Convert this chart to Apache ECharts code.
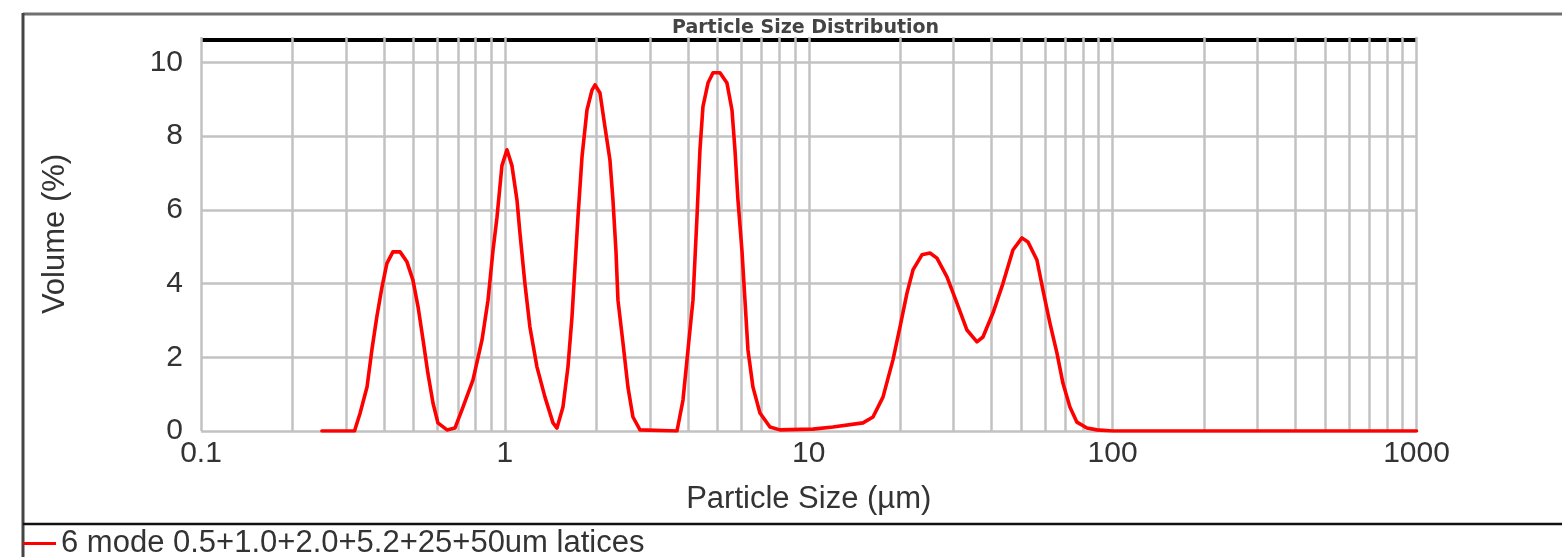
<!DOCTYPE html>
<html>
<head>
<meta charset="utf-8">
<script src="https://cdn.jsdelivr.net/npm/echarts@6/dist/echarts.min.js"></script>
<style>
html,body{margin:0;padding:0;background:#fff;}
#chart{width:1562px;height:557px;}
</style>
</head>
<body>
<div id="chart"></div>
<script>
// Particle size (µm)
const sizes = [0.25, 0.32, 0.334, 0.352, 0.365, 0.379, 0.394, 0.409, 0.428, 0.452, 0.476, 0.498, 0.518, 0.538, 0.558, 0.580, 0.602, 0.645, 0.685, 0.728, 0.785, 0.841, 0.880, 0.914, 0.942, 0.978, 1.016, 1.055, 1.096, 1.121, 1.164, 1.209, 1.275, 1.355, 1.44, 1.484, 1.553, 1.613, 1.663, 1.701, 1.740, 1.794, 1.863, 1.935, 1.980, 2.056, 2.135, 2.217, 2.268, 2.32, 2.356, 2.447, 2.541, 2.639, 2.784, 3.685, 3.856, 4.005, 4.159, 4.287, 4.385, 4.486, 4.660, 4.840, 5.103, 5.381, 5.589, 5.717, 5.848, 6.028, 6.167, 6.309, 6.553, 6.909, 7.453, 8.04, 10.32, 12.01, 15.08, 16.27, 17.55, 18.93, 19.96, 21.05, 22.03, 23.58, 25.05, 26.42, 28.50, 30.74, 33.16, 35.77, 37.43, 40.38, 43.55, 46.98, 50.30, 52.64, 56.35, 58.97, 62.18, 65.56, 68.61, 72.35, 76.29, 82.31, 88.79, 100, 1000];
// Volume (%)
const volumes = [0, 0, 0.49, 1.2, 2.2, 3.1, 3.9, 4.55, 4.86, 4.86, 4.59, 4.1, 3.37, 2.47, 1.57, 0.76, 0.22, 0.03, 0.08, 0.65, 1.38, 2.47, 3.55, 4.9, 5.8, 7.2, 7.63, 7.2, 6.27, 5.37, 4.0, 2.82, 1.74, 0.92, 0.22, 0.08, 0.65, 1.74, 3.1, 4.45, 5.8, 7.44, 8.71, 9.25, 9.39, 9.17, 8.25, 7.35, 6.27, 4.9, 3.55, 2.39, 1.19, 0.38, 0.03, 0, 0.84, 2.2, 3.55, 5.8, 7.63, 8.8, 9.44, 9.72, 9.72, 9.44, 8.71, 7.63, 6.27, 4.9, 3.55, 2.2, 1.19, 0.49, 0.11, 0.03, 0.05, 0.11, 0.22, 0.38, 0.92, 1.93, 2.82, 3.74, 4.37, 4.78, 4.83, 4.69, 4.18, 3.47, 2.74, 2.42, 2.55, 3.2, 4.0, 4.91, 5.24, 5.13, 4.64, 3.83, 2.93, 2.12, 1.3, 0.65, 0.24, 0.08, 0.03, 0, 0];
// Vertical log grid line positions
const gridX = [0.1, 0.2, 0.3, 0.4, 0.5, 0.6, 0.7, 0.8, 0.9,
  1, 2, 3, 4, 5, 6, 7, 8, 9,
  10, 20, 30, 40, 50, 60, 70, 80, 90,
  100, 200, 300, 400, 500, 600, 700, 800, 900, 1000];
// Horizontal grid lines / y tick values
const gridY = [0, 2, 4, 6, 8, 10];
// Top border of the plot (value level of the black top line)
const plotTop = 10.61;
const seriesName = '6 mode 0.5+1.0+2.0+5.2+25+50um latices';
const titleText = 'Particle Size Distribution';
const xName = 'Particle Size (µm)';
const yName = 'Volume (%)';

const data = sizes.map((s, i) => [s, volumes[i]]);
const FONT = 'Liberation Sans, Arial, Helvetica, sans-serif';
const GRID = '#c2c2c2';

const chart = echarts.init(document.getElementById('chart'), null, {renderer: 'canvas'});
chart.setOption({
  animation: false,
  backgroundColor: '#ffffff',
  title: {
    text: titleText,
    left: 672,
    top: 19,
    padding: 0,
    textStyle: {fontFamily: 'DejaVu Sans', fontWeight: 'bold', fontSize: 19, color: '#444'}
  },
  legend: {
    data: [seriesName],
    left: 23,
    top: 528,
    padding: 0,
    icon: 'rect',
    itemWidth: 33,
    itemHeight: 3,
    textStyle: {fontFamily: FONT, fontSize: 31, color: '#333'}
  },
  grid: {left: 201, right: 145.5, top: 37, bottom: 126, containLabel: false},
  xAxis: {
    type: 'log', logBase: 10, min: 0.1, max: 1000, position: 'bottom',
    axisLine: {show: false},
    axisTick: {show: false},
    splitLine: {show: false},
    axisLabel: {fontFamily: FONT, fontSize: 30, color: '#333', margin: 8,
      formatter: v => String(v)},
    name: xName, nameLocation: 'middle', nameGap: 53,
    nameTextStyle: {fontFamily: FONT, fontSize: 31, color: '#333'}
  },
  yAxis: {
    type: 'value', min: 0, max: 10.69, interval: 2,
    axisLine: {show: false},
    axisTick: {show: false},
    splitLine: {show: false},
    axisLabel: {fontFamily: FONT, fontSize: 30, color: '#333', margin: 18,
      formatter: v => (gridY.indexOf(v) >= 0 ? String(v) : '')},
    name: yName, nameLocation: 'middle', nameGap: 130, nameRotate: 90,
    nameTextStyle: {fontFamily: FONT, fontSize: 31, color: '#333'}
  },
  series: [{
    name: 'hgrid', type: 'line', data: [], z: 1, silent: true,
    markLine: {
      z: 1, silent: true, symbol: 'none', animation: false,
      label: {show: false},
      emphasis: {disabled: true},
      data: gridY.map(v => ({yAxis: v, lineStyle: {color: GRID, width: 2.5, type: 'solid'}}))
        .concat([{yAxis: plotTop, lineStyle: {color: '#000', width: 4, type: 'solid'}}])
    }
  }, {
    name: 'vgrid', type: 'line', data: [], z: 2, silent: true,
    markLine: {
      z: 2, silent: true, symbol: 'none', animation: false,
      label: {show: false},
      lineStyle: {color: GRID, width: 2.5, type: 'solid'},
      emphasis: {disabled: true},
      data: gridX.map(v => ({xAxis: v}))
    }
  }, {
    name: seriesName, type: 'line', z: 3, data: data,
    showSymbol: false, symbol: 'none',
    smooth: false,
    lineStyle: {color: '#ff0000', width: 3.6, join: 'round', cap: 'round'},
    itemStyle: {color: '#ff0000'}
  }],
  graphic: [
    {type: 'line', shape: {x1: 23, y1: 14, x2: 1562, y2: 14}, style: {stroke: '#707070', lineWidth: 3}, silent: true},
    {type: 'line', shape: {x1: 23, y1: 13, x2: 23, y2: 557}, style: {stroke: '#444', lineWidth: 3}, silent: true},
    {type: 'line', shape: {x1: 23, y1: 524, x2: 1562, y2: 524}, style: {stroke: '#111', lineWidth: 2.5}, silent: true}
  ]
});
</script>
</body>
</html>
